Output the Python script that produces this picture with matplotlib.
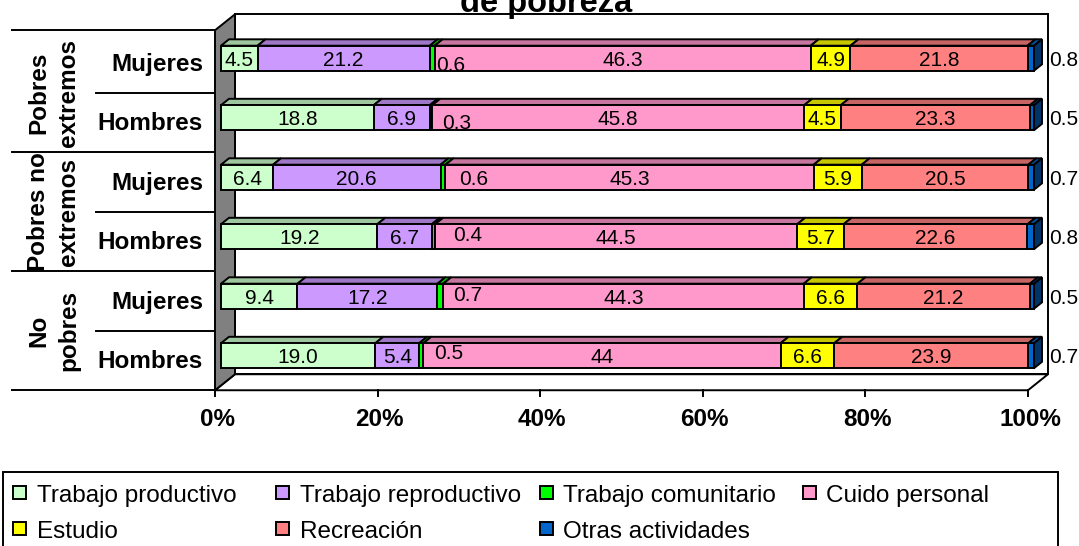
import matplotlib.pyplot as plt
from matplotlib.patches import Polygon, Rectangle
import numpy as np

plt.rcParams["font.family"] = ["Liberation Sans", "DejaVu Sans"]

# rows from top to bottom
row_groups = ["Pobres\nextremos", "Pobres no\nextremos", "No\npobres"]
row_sexes = ["Mujeres", "Hombres", "Mujeres", "Hombres", "Mujeres", "Hombres"]

activities = ["Trabajo productivo", "Trabajo reproductivo", "Trabajo comunitario",
              "Cuido personal", "Estudio", "Recreación", "Otras actividades"]

productivo = [4.5, 18.8, 6.4, 19.2, 9.4, 19.0]
reproductivo = [21.2, 6.9, 20.6, 6.7, 17.2, 5.4]
comunitario = [0.6, 0.3, 0.6, 0.4, 0.7, 0.5]
cuido = [46.3, 45.8, 45.3, 44.5, 44.3, 44.0]
estudio = [4.9, 4.5, 5.9, 5.7, 6.6, 6.6]
recreacion = [21.8, 23.3, 20.5, 22.6, 21.2, 23.9]
otras = [0.8, 0.5, 0.7, 0.8, 0.5, 0.7]

# label text that differs from the default one-decimal format
label_override = {(5, 3): "44"}

tick_values = [0, 20, 40, 60, 80, 100]

colors = ["#CCFFCC", "#CC99FF", "#00FF00", "#FF99CC", "#FFFF00", "#FF8080", "#0066CC"]

# pixel geometry of the reference (bar front plane)
PX_X0, PX_PER_PCT = 221.0, 8.13
PY_Y0, PX_PER_ROW = 355.7, 59.5
W, H = 1079, 546
DX, DY = 20 / PX_PER_PCT, 16 / PX_PER_ROW   # one unit of depth in data units
BAR_DEPTH = 0.4
FLOOR_D, WALL_D = -0.3, 0.7
FLOOR_Y, TOP_Y = -0.5, 5.55
HALF_H = 12.5 / PX_PER_ROW
LW = 1.4


def px(x_px):
    return (x_px - PX_X0) / PX_PER_PCT


def py(y_px):
    return (PY_Y0 - y_px) / PX_PER_ROW


def proj(x, y, d):
    return (x + d * DX, y + d * DY)


def shade(c, f):
    r, g, b = plt.matplotlib.colors.to_rgb(c)
    return (r * f, g * f, b * f)


def main():
    data = np.array([productivo, reproductivo, comunitario, cuido,
                     estudio, recreacion, otras]).T
    pct = data / data.sum(axis=1, keepdims=True) * 100

    fig = plt.figure(figsize=(W / 100, H / 100), dpi=100)
    ax = fig.add_axes([0, 0, 1, 1])
    ax.set_xlim(px(0), px(W))
    ax.set_ylim(py(H), py(0))
    ax.axis("off")

    # walls and floor
    back = [proj(0, FLOOR_Y, WALL_D), proj(100, FLOOR_Y, WALL_D),
            proj(100, TOP_Y, WALL_D), proj(0, TOP_Y, WALL_D)]
    ax.add_patch(Polygon(back, closed=True, facecolor="white", edgecolor="black", lw=LW))
    floor = [proj(0, FLOOR_Y, FLOOR_D), proj(100, FLOOR_Y, FLOOR_D),
             proj(100, FLOOR_Y, WALL_D), proj(0, FLOOR_Y, WALL_D)]
    ax.add_patch(Polygon(floor, closed=True, facecolor="white", edgecolor="black", lw=LW))
    side = [proj(0, FLOOR_Y, FLOOR_D), proj(0, FLOOR_Y, WALL_D),
            proj(0, TOP_Y, WALL_D), proj(0, TOP_Y, FLOOR_D)]
    ax.add_patch(Polygon(side, closed=True, facecolor="#808080", edgecolor="black", lw=LW))

    # x ticks on the front floor edge
    for t in tick_values:
        x0, y0 = proj(t, FLOOR_Y, FLOOR_D)
        ax.plot([x0, x0], [y0, y0 - 6 / PX_PER_ROW], color="black", lw=LW)
        ax.text(x0 + 0.25, py(425.7), f"{t}%", ha="center", va="baseline",
                fontsize=17.5, fontweight="bold")

    # category separators and labels
    left_major, left_minor = px(12), px(96)
    x_edge, _ = proj(0, 0, FLOOR_D)
    for y_b in [TOP_Y, 3.5, 1.5, FLOOR_Y]:
        yy = y_b + FLOOR_D * DY
        ax.plot([left_major, x_edge], [yy, yy], color="black", lw=LW)
    for y_b in [4.5, 2.5, 0.5]:
        yy = y_b + FLOOR_D * DY
        ax.plot([left_minor, x_edge], [yy, yy], color="black", lw=LW)

    n_rows = len(row_sexes)
    for r, sex in enumerate(row_sexes):
        y = n_rows - 1 - r
        ax.text(px(203), y - 0.213, sex, ha="right", va="baseline",
                fontsize=17.5, fontweight="bold")

    for g, name in enumerate(row_groups):
        yc = (n_rows - 1 - 2 * g) - 0.5 + FLOOR_D * DY
        for line, x_px in zip(name.split("\n"), [45, 75]):
            ax.text(px(x_px), yc, line, rotation=90, rotation_mode="anchor",
                    ha="center", va="baseline", fontsize=17.5, fontweight="bold")

    # offsets (px) for the "Trabajo comunitario" labels: right of segment, up/down
    com_dx = [2, 10, 14, 18, 10, 11]
    com_dy = [5, 4, 0, -3, -3, -4]

    # bars
    for r in range(n_rows):
        y = n_rows - 1 - r
        left = 0.0
        for j, v in enumerate(pct[r]):
            x0, x1 = left, left + v
            yt = y + HALF_H
            top = [(x0, yt), (x1, yt), proj(x1, yt, BAR_DEPTH), proj(x0, yt, BAR_DEPTH)]
            ax.add_patch(Polygon(top, closed=True, facecolor=shade(colors[j], 0.78),
                                 edgecolor="black", lw=LW))
            ax.barh(y, v, left=x0, height=2 * HALF_H, color=colors[j],
                    edgecolor="black", linewidth=LW)
            if j == len(activities) - 1:
                yb = y - HALF_H
                sd = [(x1, yb), (x1, yt), proj(x1, yt, BAR_DEPTH), proj(x1, yb, BAR_DEPTH)]
                ax.add_patch(Polygon(sd, closed=True, facecolor=shade(colors[j], 0.5),
                                     edgecolor="black", lw=LW))

            txt = label_override.get((r, j), f"{data[r, j]:.1f}")
            base = y - 7.5 / PX_PER_ROW
            if j == 2:
                ax.text(x1 + com_dx[r] / PX_PER_PCT, base - com_dy[r] / PX_PER_ROW, txt,
                        ha="left", va="baseline", fontsize=15)
            elif j == len(activities) - 1:
                ax.text(px(1049), base, txt, ha="left", va="baseline", fontsize=15)
            else:
                ax.text((x0 + x1) / 2, base, txt, ha="center", va="baseline", fontsize=15)
            left = x1

    # title (first line falls outside the image)
    fig.text(546 / W, 1 - 12 / H, "de pobreza", ha="center", va="baseline",
             fontsize=23.5, fontweight="bold")

    # legend box with equal-width columns
    ax.add_patch(Rectangle((px(3.4), py(560)), px(1057.6) - px(3.4), py(472) - py(560),
                           facecolor="white", edgecolor="black", lw=LW, clip_on=False))
    col_w, row_c, row_base = 263.3, [492.5, 528.7], [502, 538]
    for i, (name, c) in enumerate(zip(activities, colors)):
        row, col = divmod(i, 4)
        mx = 13 + col * col_w
        ax.add_patch(Rectangle((px(mx), py(row_c[row] + 6.5)), 13 / PX_PER_PCT,
                               13 / PX_PER_ROW, facecolor=c, edgecolor="black", lw=LW))
        ax.text(px(mx + 23.5), py(row_base[row]), name, ha="left", va="baseline",
                fontsize=17.5)

    fig.savefig("out.png", dpi=100)
    plt.close(fig)


if __name__ == "__main__":
    main()
